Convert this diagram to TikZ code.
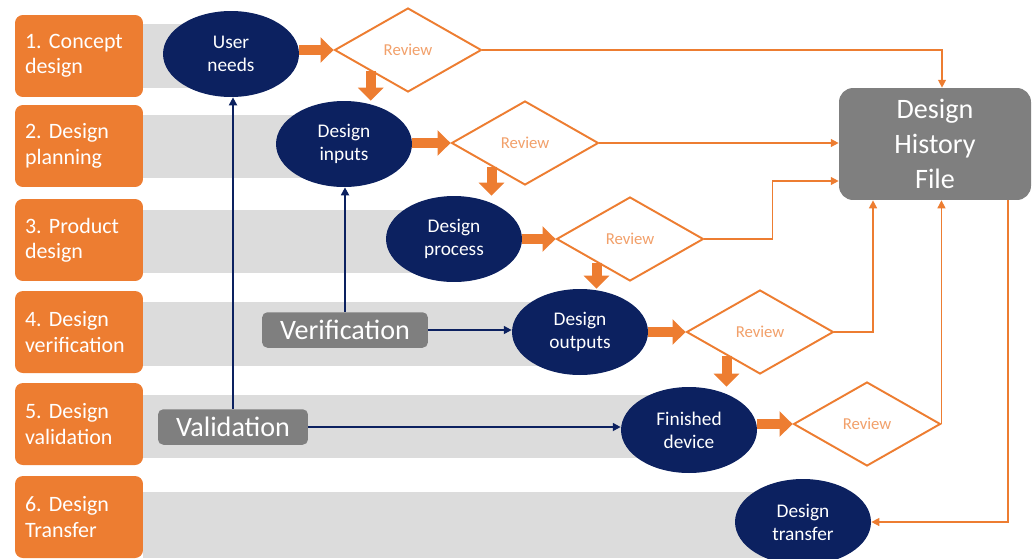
\documentclass[tikz,border=0pt]{standalone}
\usepackage{fontspec}
\setmainfont{Carlito}
\usetikzlibrary{shapes.geometric,arrows.meta,calc}

\definecolor{dhforange}{HTML}{ED7D31}
\definecolor{dhfnavy}{HTML}{0C2160}
\definecolor{dhfband}{HTML}{DCDCDC}
\definecolor{dhfgrey}{HTML}{7F7F7F}
\definecolor{reviewtext}{HTML}{F2A06A}

\tikzset{
    stage/.style={fill=dhforange, rounded corners=4.5pt, text=white, align=left,
        text width=2.16cm, inner xsep=0.2cm, minimum height=1.64cm,
        font=\fontsize{12.5}{14.5}\selectfont\frenchspacing},
    activity/.style={ellipse, fill=dhfnavy, text=white, align=center,
        minimum width=2.72cm, minimum height=1.72cm, inner sep=0pt,
        font=\fontsize{11}{13}\selectfont},
    review/.style={diamond, draw=dhforange, line width=1.1pt, fill=white,
        text=reviewtext, minimum width=2.94cm, minimum height=1.68cm, inner sep=0pt,
        font=\fontsize{9.5}{11}\selectfont},
    checkbox/.style={fill=dhfgrey, rounded corners=3pt, text=white,
        inner xsep=0.36cm, minimum height=0.71cm, font=\fontsize{16}{19}\selectfont},
    flow/.style={dhforange, line width=0.2cm, -{Triangle[length=0.26cm,width=0.5cm]}},
    record/.style={dhforange, line width=0.8pt, -{Triangle[length=4.5pt,width=4.5pt]}},
    check/.style={dhfnavy, line width=1.1pt, -{Triangle[length=4.5pt,width=4.5pt]}},
}

\begin{document}
\begin{tikzpicture}[x=0.02cm, y=-0.02cm]
    \useasboundingbox (0,0) rectangle (1033,558);

    % grey bands
    \fill[dhfband] (143,24) rectangle (231,88);
    \fill[dhfband] (143,115) rectangle (344,178);
    \fill[dhfband] (143,210) rectangle (454,273);
    \fill[dhfband] (143,302) rectangle (580,366);
    \fill[dhfband] (143,395) rectangle (689,458);
    \fill[dhfband] (143,492) rectangle (803,558);

    % stages
    \node[stage] (s1) at (79,56) {1. Concept\\design};
    \node[stage] (s2) at (79,146) {2. Design\\planning};
    \node[stage] (s3) at (79,240) {3. Product\\design};
    \node[stage] (s4) at (79,332) {4. Design\\verification};
    \node[stage] (s5) at (79,424) {5. Design\\validation};
    \node[stage] (s6) at (79,517) {6. Design\\Transfer};

    % activities
    \node[activity] (needs) at (231,54) {User\\needs};
    \node[activity] (inputs) at (344,144) {Design\\inputs};
    \node[activity] (process) at (454,239) {Design\\process};
    \node[activity] (outputs) at (580,332) {Design\\outputs};
    \node[activity] (device) at (689,430) {Finished\\device};
    \node[activity] (transfer) at (803,522) {Design\\transfer};

    % reviews
    \node[review] (rev1) at (408,50) {Review};
    \node[review] (rev2) at (525,143) {Review};
    \node[review] (rev3) at (630,239) {Review};
    \node[review] (rev4) at (760,332) {Review};
    \node[review] (rev5) at (867,424) {Review};

    % design history file
    \node[fill=dhfgrey, rounded corners=8pt, text=white, align=center,
        minimum width=3.84cm, minimum height=2.24cm,
        font=\fontsize{16}{20}\selectfont] (dhf) at (935,144) {Design\\History\\File};

    % verification and validation
    \node[checkbox] (ver) at (345,330) {Verification};
    \node[checkbox] (val) at (233,427) {Validation};

    % flow to the reviews
    \draw[flow] (rev1.west -| needs.east) -- (rev1.west);
    \draw[flow] (rev2.west -| inputs.east) -- (rev2.west);
    \draw[flow] (rev3.west -| process.east) -- (rev3.west);
    \draw[flow] (rev4.west -| outputs.east) -- (rev4.west);
    \draw[flow] (rev5.west -| device.east) -- (rev5.west);

    % flow down to the next step
    \coordinate (out1) at ($(rev1.south)!.5!(rev1.west)$);
    \coordinate (out2) at ($(rev2.south)!.45!(rev2.west)$);
    \coordinate (out3) at ($(rev3.south)!.45!(rev3.west)$);
    \coordinate (out4) at ($(rev4.south)!.45!(rev4.west)$);
    \draw[flow] (out1) -- (out1 |- inputs.north);
    \draw[flow] (out2) -- (out2 |- process.north);
    \draw[flow] (out3) -- (out3 |- outputs.north);
    \draw[flow] (out4) -- (out4 |- device.north);

    % records into the file
    \draw[record] (rev1.east) -| ($(dhf.north)+(7,0)$);
    \draw[record] (rev2.east) -- (rev2.east -| dhf.west);
    \draw[record] (rev3.east) -- ++(68,0) |- ($(dhf.west)+(0,37)$);
    \draw[record] (rev4.east) -| ($(dhf.south)+(-62,0)$);
    \draw[record] (rev5.east) -- (rev5.east |- dhf.south);
    \draw[record] ($(dhf.south)+(73,0)$) |- (transfer.east);

    % checks
    \draw[check] (ver.north) -- (ver.north |- inputs.south);
    \draw[check] (ver.east) -- (ver.east -| outputs.west);
    \draw[check] (val.north) -- (val.north |- needs.south);
    \draw[check] (val.east) -- (val.east -| device.west);
\end{tikzpicture}
\end{document}
